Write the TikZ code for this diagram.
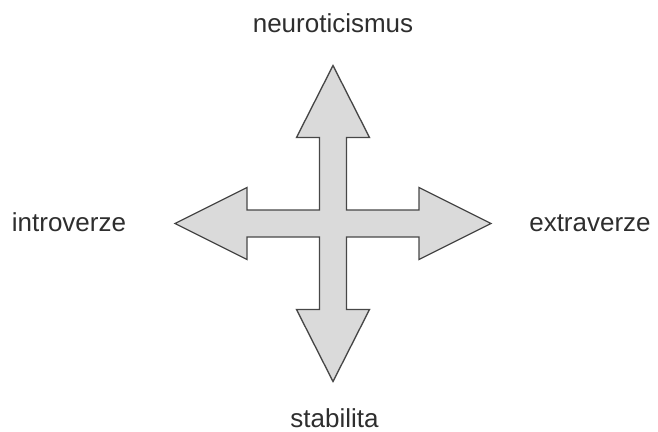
\documentclass[tikz,border=0pt]{standalone}
\usepackage{fontspec}
\setmainfont{Liberation Sans}
\definecolor{crossfill}{HTML}{DADADA}
\definecolor{crossline}{HTML}{474747}
\definecolor{labeltext}{HTML}{2E2E2E}
\begin{document}
\begin{tikzpicture}[x=0.75pt,y=-0.75pt,
  lbl/.style={font=\fontsize{19.5pt}{23pt}\selectfont, text=labeltext, inner sep=0pt, anchor=base},
  crossshape/.style={fill=crossfill, draw=crossline, line width=1pt, line join=miter}]
\useasboundingbox (0,0) rectangle (658,432);
\draw[crossshape]
  (333,65.5) -- (369.5,137.5) -- (346.5,137.5) -- (346.5,210) -- (419,210) -- (419,187.5)
  -- (491,223.5) -- (419,259.5) -- (419,237) -- (346.5,237) -- (346.5,309.5) -- (369.5,309.5)
  -- (333,381.5) -- (296.5,309.5) -- (319.5,309.5) -- (319.5,237) -- (247,237) -- (247,259.5)
  -- (175,223.5) -- (247,187.5) -- (247,210) -- (319.5,210) -- (319.5,137.5) -- (296.5,137.5) -- cycle;
\node[lbl] (n) at (333,32) {neuroticismus};
\node[lbl] (i) at (69,231.5) {introverze};
\node[lbl] (e) at (590,231.5) {extraverze};
\node[lbl] (s) at (334.5,427) {stabilita};
\end{tikzpicture}
\end{document}
